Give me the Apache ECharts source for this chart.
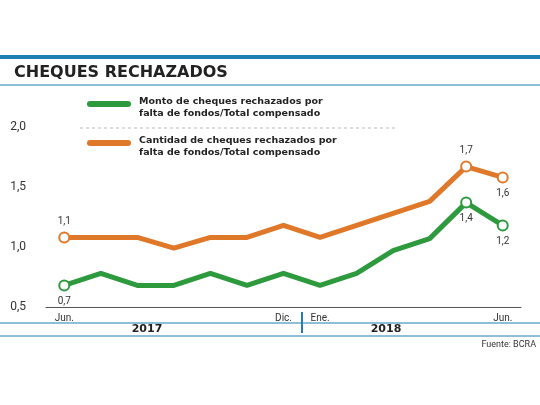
<!DOCTYPE html>
<html>
<head>
<meta charset="utf-8">
<script src="https://cdn.jsdelivr.net/npm/echarts@6/dist/echarts.min.js"></script>
<style>html,body{margin:0;padding:0;background:#fff}#main{width:540px;height:405px}</style>
</head>
<body>
<div id="main"></div>
<script>
// meses jun 2017 - jun 2018
var months = ['Jun.', '', '', '', '', '', 'Dic.', 'Ene.', '', '', '', '', 'Jun.'];
var montoData = [0.68, 0.78, 0.68, 0.68, 0.78, 0.68, 0.78, 0.68, 0.78, 0.97, 1.07, 1.37, 1.18];
var cantidadData = [1.08, 1.08, 1.08, 0.99, 1.08, 1.08, 1.18, 1.08, 1.18, 1.28, 1.38, 1.67, 1.58];
var montoLabels = {0: '0,7', 11: '1,4', 12: '1,2'};
var cantidadLabels = {0: '1,1', 11: '1,7', 12: '1,6'};
var yTicks = ['0,5', '1,0', '1,5', '2,0'];

var green = '#2e9a3e', orange = '#e0782a', blue = '#1f7fb0';
var font = 'Roboto, "DejaVu Sans", sans-serif';
var boldFont = '"DejaVu Sans", sans-serif';

function buildData(values, labels, color, pos) {
    return values.map(function (v, i) {
        if (labels[i] === undefined) return v;
        return {
            value: v,
            symbol: 'circle',
            symbolSize: 10,
            itemStyle: {color: '#fff', borderColor: color, borderWidth: 2},
            label: {show: true, formatter: labels[i], position: pos[i] || 'top', color: '#333', fontSize: 10, fontFamily: font}
        };
    });
}

var option = {
    animation: false,
    grid: {left: 46, right: 19, top: 127, bottom: 98},
    xAxis: {
        type: 'category',
        data: months,
        boundaryGap: true,
        axisLine: {show: true, lineStyle: {color: '#555', width: 1}},
        axisTick: {show: false},
        axisLabel: {interval: 0, color: '#333', fontSize: 10, fontFamily: font, margin: 6}
    },
    yAxis: {
        type: 'value',
        min: 0.5, max: 2.0, interval: 0.5,
        axisLine: {show: false},
        axisTick: {show: false},
        splitLine: {show: false},
        axisLabel: {
            color: '#333', fontSize: 12, fontFamily: font, margin: 20,
            formatter: function (v) { return yTicks[Math.round((v - 0.5) / 0.5)]; }
        }
    },
    series: [
        {
            name: 'Cantidad', type: 'line', symbol: 'none',
            lineStyle: {color: orange, width: 5},
            itemStyle: {color: orange},
            data: buildData(cantidadData, cantidadLabels, orange, {12: 'bottom'})
        },
        {
            name: 'Monto', type: 'line', symbol: 'none',
            lineStyle: {color: green, width: 5},
            itemStyle: {color: green},
            data: buildData(montoData, montoLabels, green, {0: 'bottom', 11: 'bottom', 12: 'bottom'})
        }
    ],
    graphic: [
        {type: 'rect', shape: {x: 0, y: 55, width: 540, height: 4}, style: {fill: blue}},
        {type: 'text', left: 14, top: 65, style: {text: 'CHEQUES RECHAZADOS', font: 'bold 16px ' + boldFont, fill: '#222'}},
        {type: 'line', shape: {x1: 0, y1: 85, x2: 540, y2: 85}, style: {stroke: blue, lineWidth: 1}},
        {type: 'line', shape: {x1: 80, y1: 128, x2: 395, y2: 128}, style: {stroke: '#bbb', lineWidth: 1, lineDash: [3, 3]}},
        {type: 'line', shape: {x1: 90, y1: 104, x2: 128, y2: 104}, style: {stroke: green, lineWidth: 6, lineCap: 'round'}},
        {type: 'text', left: 139, top: 96, style: {text: 'Monto de cheques rechazados por\nfalta de fondos/Total compensado', font: 'bold 9.5px ' + boldFont, fill: '#222', lineHeight: 12}},
        {type: 'line', shape: {x1: 90, y1: 143, x2: 128, y2: 143}, style: {stroke: orange, lineWidth: 6, lineCap: 'round'}},
        {type: 'text', left: 139, top: 135, style: {text: 'Cantidad de cheques rechazados por\nfalta de fondos/Total compensado', font: 'bold 9.5px ' + boldFont, fill: '#222', lineHeight: 12}},
        {type: 'line', shape: {x1: 0, y1: 323, x2: 540, y2: 323}, style: {stroke: blue, lineWidth: 1}},
        {type: 'line', shape: {x1: 0, y1: 336, x2: 540, y2: 336}, style: {stroke: blue, lineWidth: 1}},
        {type: 'line', shape: {x1: 302, y1: 312, x2: 302, y2: 333}, style: {stroke: blue, lineWidth: 2}},
        {type: 'text', x: 147, y: 324, style: {text: '2017', font: 'bold 11px ' + boldFont, fill: '#222', align: 'center'}},
        {type: 'text', x: 386, y: 324, style: {text: '2018', font: 'bold 11px ' + boldFont, fill: '#222', align: 'center'}},
        {type: 'text', x: 536, y: 340, style: {text: 'Fuente: BCRA', font: '9px ' + font, fill: '#333', align: 'right'}}
    ]
};
var chart = echarts.init(document.getElementById('main'));
chart.setOption(option);
</script>
</body>
</html>
